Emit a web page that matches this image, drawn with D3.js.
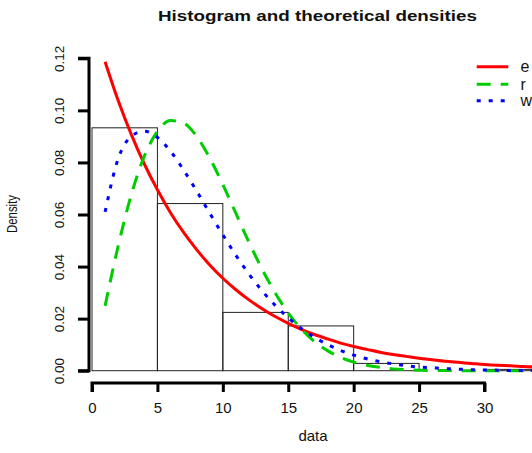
<!DOCTYPE html>
<html>
<head>
<meta charset="utf-8">
<script src="https://cdn.jsdelivr.net/npm/d3@7/dist/d3.min.js"></script>
<style>
  html, body { margin: 0; padding: 0; background: #fff; }
  svg { display: block; }
  text { font-family: "Liberation Sans", Arial, sans-serif; fill: #111; }
</style>
</head>
<body>
<div id="chart"></div>
<script>
// ---- data ----
const binEdges = [0, 5, 10, 15, 20, 25, 30, 35];
const histDensity = [0.0933, 0.0642, 0.0224, 0.0172, 0.0028, 0.0, 0.0005];

const xGrid = [1,2,3,4,5,6,7,8,9,10,11,12,13,14,15,16,17,18,19,20,21,22,23,24,25,26,27,28,29,30,31,32,33,34,35];
const expDensity = [0.1187,0.1038,0.0908,0.0794,0.0695,0.0607,0.0531,0.0465,0.0406,0.0355,
  0.0311,0.0272,0.0238,0.0208,0.0182,0.0159,0.0139,0.0122,0.0106,0.0093,
  0.0082,0.0071,0.0062,0.0055,0.0048,0.0042,0.0036,0.0032,0.0028,0.0024,
  0.0021,0.0019,0.0016,0.0014,0.0012];
const rayDensity = [0.0249,0.0479,0.0675,0.0824,0.0919,0.0961,0.0951,0.0900,0.0817,0.0715,
  0.0604,0.0493,0.0390,0.0299,0.0222,0.0160,0.0112,0.0077,0.0051,0.0033,
  0.0021,0.0013,0.0007,0.0004,0.0002,0.0001,0.0001,0,0,0,
  0,0,0,0,0];
const weiDensity = [0.0610,0.0814,0.0900,0.0920,0.0896,0.0843,0.0771,0.0690,0.0605,0.0522,
  0.0443,0.0371,0.0307,0.0251,0.0203,0.0162,0.0128,0.0101,0.0078,0.0060,
  0.0046,0.0035,0.0026,0.0019,0.0014,0.0011,0.0008,0.0006,0.0004,0.0003,
  0.0002,0.0001,0.0001,0.0001,0.0001];

const xTicks = [0, 5, 10, 15, 20, 25, 30];
const yTicks = [0, 0.02, 0.04, 0.06, 0.08, 0.10, 0.12];
const legendLabels = ["e", "r", "w"];
const titleText = "Histogram and theoretical densities";
const xLabel = "data";
const yLabel = "Density";

// ---- drawing ----
const W = 532, H = 453;
const svg = d3.select("#chart").append("svg").attr("width", W).attr("height", H);

const x = d3.scaleLinear().domain([0, 30]).range([92, 484.5]);
const y = d3.scaleLinear().domain([0, 0.12]).range([370.7, 58.3]);

// histogram
const bins = histDensity.map((d, i) => ({x0: binEdges[i], x1: binEdges[i + 1], d}));
svg.append("g").selectAll("rect").data(bins).join("rect")
  .attr("x", b => x(b.x0))
  .attr("y", b => y(b.d))
  .attr("width", b => x(b.x1) - x(b.x0))
  .attr("height", b => y(0) - y(b.d))
  .attr("fill", "none")
  .attr("stroke", "#222")
  .attr("stroke-width", 1);

// curves
const series = [
  {vals: expDensity, color: "#ff0000", dash: null},
  {vals: rayDensity, color: "#00cd00", dash: "14,10"},
  {vals: weiDensity, color: "#0000ff", dash: "4,8"}
];
const line = d3.line().x(d => x(d[0])).y(d => y(d[1])).curve(d3.curveMonotoneX);
series.forEach(s => {
  svg.append("path")
    .datum(xGrid.map((xv, i) => [xv, s.vals[i]]))
    .attr("d", line)
    .attr("fill", "none")
    .attr("stroke", s.color)
    .attr("stroke-width", 3)
    .attr("stroke-dasharray", s.dash);
});

// x axis
const xAxis = d3.axisBottom(x).tickValues(xTicks).tickSize(9).tickPadding(10).tickFormat(d3.format("d"));
const gx = svg.append("g").attr("transform", "translate(0,383)").call(xAxis);
gx.select(".domain").attr("stroke", "#000").attr("stroke-width", 3)
  .attr("d", `M${x(0)},9V0H${x(30)}V9`);
gx.selectAll(".tick line").attr("stroke", "#000").attr("stroke-width", 3);
gx.selectAll(".tick text").attr("font-size", 15).attr("fill", "#111")
  .attr("font-family", "Liberation Sans, Arial, sans-serif");

// y axis
const yAxis = d3.axisLeft(y).tickValues(yTicks).tickSize(11).tickPadding(0).tickFormat(d3.format(".2f"));
const gy = svg.append("g").attr("transform", "translate(89,0)").call(yAxis);
gy.select(".domain").attr("stroke", "#000").attr("stroke-width", 3)
  .attr("d", `M-11,${y(0.12)}H0V${y(0)}H-11`);
gy.selectAll(".tick line").attr("stroke", "#000").attr("stroke-width", 3);
gy.selectAll(".tick text")
  .attr("font-size", 13.5).attr("fill", "#111")
  .attr("font-family", "Liberation Sans, Arial, sans-serif")
  .attr("x", null).attr("dy", null)
  .attr("text-anchor", "middle")
  .attr("dominant-baseline", "central")
  .attr("transform", "translate(-30,0) rotate(-90)");

// title & axis labels
svg.append("text").attr("x", 317.5).attr("y", 21)
  .attr("text-anchor", "middle").attr("font-weight", "bold").attr("font-size", 15.5)
  .attr("textLength", 319).attr("lengthAdjust", "spacingAndGlyphs")
  .text(titleText);
svg.append("text").attr("x", 313).attr("y", 441)
  .attr("text-anchor", "middle").attr("font-size", 15).text(xLabel);
svg.append("text")
  .attr("transform", "translate(17,214) rotate(-90)")
  .attr("text-anchor", "middle").attr("font-size", 14.5)
  .attr("textLength", 38).attr("lengthAdjust", "spacingAndGlyphs")
  .text(yLabel);

// legend
const legY = [66.7, 84.3, 100.7];
series.forEach((s, i) => {
  svg.append("line")
    .attr("x1", 476.7).attr("x2", 508.3)
    .attr("y1", legY[i]).attr("y2", legY[i])
    .attr("stroke", s.color).attr("stroke-width", 3)
    .attr("stroke-dasharray", s.dash);
  svg.append("text").attr("x", 520.5).attr("y", legY[i])
    .attr("dominant-baseline", "central").attr("font-size", 16)
    .text(legendLabels[i]);
});
</script>
</body>
</html>
